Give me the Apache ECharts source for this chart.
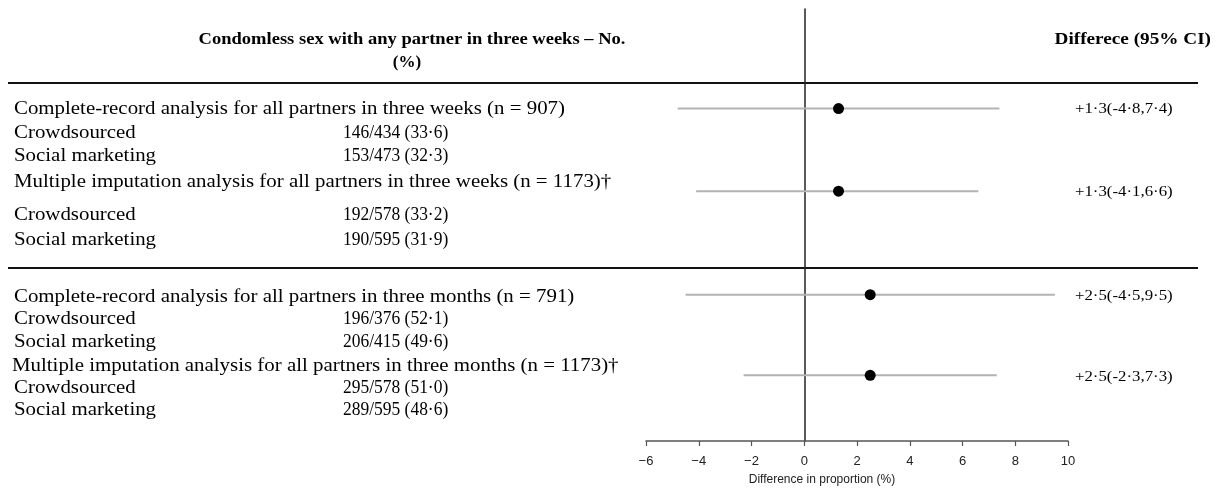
<!DOCTYPE html>
<html>
<head>
<meta charset="utf-8">
<style>
html,body{margin:0;padding:0;background:#fff;}
#chart{width:1220px;height:491px;}
</style>
<script src="https://cdn.jsdelivr.net/npm/echarts@6/dist/echarts.min.js"></script>
</head>
<body>
<div id="chart"></div>
<script>
// ---- data ----
const headerLeft = ['Condomless sex with any partner in three weeks \u2013 No.', '(%)'];
const headerRight = 'Differece (95% CI)';
const rowLabels = [
  'Complete-record analysis for all partners in three weeks (n = 907)',
  'Crowdsourced',
  'Social marketing',
  'Multiple imputation analysis for all partners in three weeks (n = 1173)\u2020',
  'Crowdsourced',
  'Social marketing',
  'Complete-record analysis for all partners in three months (n = 791)',
  'Crowdsourced',
  'Social marketing',
  'Multiple imputation analysis for all partners in three months (n = 1173)\u2020',
  'Crowdsourced',
  'Social marketing'
];
const rowCounts = [
  '', '146/434 (33\u00b76)', '153/473 (32\u00b73)',
  '', '192/578 (33\u00b72)', '190/595 (31\u00b79)',
  '', '196/376 (52\u00b71)', '206/415 (49\u00b76)',
  '', '295/578 (51\u00b70)', '289/595 (48\u00b76)'
];
const estimates = [1.3, 1.3, 2.5, 2.5];
const lowerCI   = [-4.8, -4.1, -4.5, -2.3];
const upperCI   = [7.4, 6.6, 9.5, 7.3];
const xTicks = { min: -6, max: 10, interval: 2 };
const axisTitle = 'Difference in proportion (%)';

// ---- layout (pixel rows on a hidden vertical axis) ----
const textRowY = [109, 133, 156, 182, 215, 240, 297, 319, 342, 366, 388, 410];
const estRowY  = [109, 192, 296, 377];
const sepY = [83, 268];

const fmt = v => (v < 0 ? '-' : '') + Math.abs(v).toFixed(1).replace('.', '\u00b7');
const ciText = estimates.map((e, i) => '+' + fmt(e) + '(' + fmt(lowerCI[i]) + ',' + fmt(upperCI[i]) + ')');

const serif = '"Liberation Serif", "Times New Roman", serif';
function txt(t, x, y, font, align, sx) {
  return { type: 'text', x: x, y: y, scaleX: sx || 1, style: {
    text: t, x: 0, y: 0, font: font, fill: '#000',
    align: align || 'left', verticalAlign: 'middle',
    textAlign: align || 'left', textVerticalAlign: 'middle' } };
}
const graphics = [];
graphics.push(txt(headerLeft[0], 412, 40, 'bold 17px ' + serif, 'center', 1.09));
graphics.push(txt(headerLeft[1], 407, 63, 'bold 17px ' + serif, 'center', 1.0));
graphics.push(txt(headerRight, 1211, 40, 'bold 17px ' + serif, 'right', 1.13));
sepY.forEach(y => graphics.push({ type: 'line', shape: { x1: 8, y1: y, x2: 1198, y2: y },
  style: { stroke: '#111', lineWidth: 2 } }));
rowLabels.forEach((t, i) => {
  const isHead = rowCounts[i] === '';
  graphics.push(txt(t, isHead && i === 9 ? 12 : 14, textRowY[i], '18px ' + serif, 'left', 1.16));
  if (!isHead) graphics.push(txt(rowCounts[i], 343, textRowY[i], '18px ' + serif, 'left', 0.97));
});
ciText.forEach((t, i) => graphics.push(txt(t, 1075, estRowY[i], '15px ' + serif, 'left', 1.12)));

const chart = echarts.init(document.getElementById('chart'), null, { renderer: 'canvas' });
chart.setOption({
  animation: false,
  backgroundColor: '#fff',
  grid: { left: 646, right: 152, top: 9, bottom: 48, containLabel: false },
  xAxis: {
    type: 'value', min: xTicks.min, max: xTicks.max, interval: xTicks.interval,
    axisLine: { onZero: false, lineStyle: { color: '#555', width: 1.5 } },
    axisTick: { show: true, length: 5, lineStyle: { color: '#555', width: 1.2 } },
    axisLabel: { color: '#222', fontSize: 13, fontFamily: '"Liberation Sans", Arial, sans-serif', margin: 14,
      formatter: v => String(v).replace('-', '\u2212') },
    splitLine: { show: false },
    name: axisTitle, nameLocation: 'middle', nameGap: 33,
    nameTextStyle: { color: '#222', fontSize: 12, fontFamily: '"Liberation Sans", Arial, sans-serif', padding: [0, 70, 0, 0] }
  },
  yAxis: {
    type: 'value', inverse: true, min: 9, max: 443,
    axisLine: { show: true, onZero: true, lineStyle: { color: '#222', width: 1.5 } },
    axisTick: { show: false }, axisLabel: { show: false }, splitLine: { show: false }
  },
  series: [
    {
      type: 'custom',
      data: lowerCI.map((l, i) => [l, upperCI[i], estRowY[i]]),
      encode: { x: [0, 1], y: 2 },
      renderItem: (params, api) => {
        const a = api.coord([api.value(0), api.value(2)]);
        const b = api.coord([api.value(1), api.value(2)]);
        return { type: 'line', shape: { x1: a[0], y1: a[1], x2: b[0], y2: b[1] },
          style: { stroke: '#b3b3b3', lineWidth: 2 } };
      },
      z: 2
    },
    {
      type: 'scatter',
      data: estimates.map((e, i) => [e, estRowY[i]]),
      symbol: 'circle', symbolSize: 11,
      itemStyle: { color: '#000', opacity: 1 },
      z: 3
    }
  ],
  graphic: graphics
});
</script>
</body>
</html>
